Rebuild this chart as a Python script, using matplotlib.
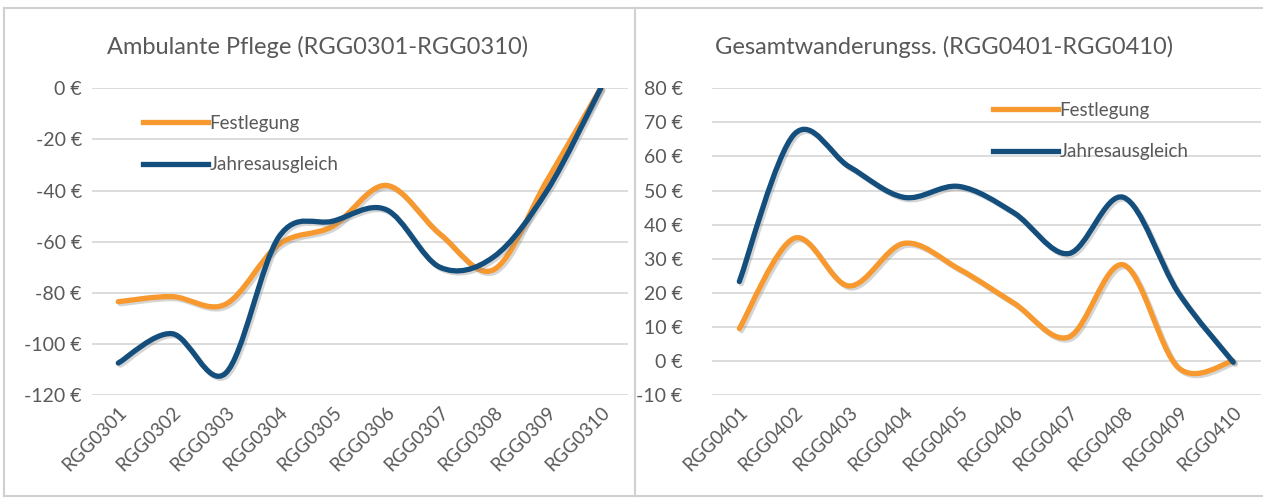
import matplotlib
matplotlib.use("Agg")
import matplotlib.pyplot as plt
import matplotlib.patheffects as pe
from matplotlib.path import Path
from matplotlib.patches import PathPatch
from matplotlib.lines import Line2D
import numpy as np

plt.rcParams['font.family'] = ['Lato', 'DejaVu Sans']

# ---- data ----
left_title = "Ambulante Pflege (RGG0301-RGG0310)"
left_categories = ["RGG0301", "RGG0302", "RGG0303", "RGG0304", "RGG0305",
                   "RGG0306", "RGG0307", "RGG0308", "RGG0309", "RGG0310"]
left_festlegung = [-83.5, -81.5, -84.5, -61, -54, -38, -57, -71, -36, 0]
left_jahresausgleich = [-107.5, -96, -111.5, -58, -52, -47.5, -70, -66, -40, 0]
left_yticks = [0, -20, -40, -60, -80, -100, -120]

right_title = "Gesamtwanderungss. (RGG0401-RGG0410)"
right_categories = ["RGG0401", "RGG0402", "RGG0403", "RGG0404", "RGG0405",
                    "RGG0406", "RGG0407", "RGG0408", "RGG0409", "RGG0410"]
right_festlegung = [9.5, 36, 22, 34.5, 27, 17, 7, 28.2, -2, 0]
right_jahresausgleich = [23.3, 66.5, 57, 48, 51.2, 43.5, 31.5, 48, 20, -0.4]
right_yticks = [80, 70, 60, 50, 40, 30, 20, 10, 0, -10]

series_names = ["Festlegung", "Jahresausgleich"]
colors = ["#F7992F", "#134E7C"]

W, H = 1263, 498
fig = plt.figure(figsize=(W / 100, H / 100), dpi=100)
fig.patch.set_facecolor("white")

text_col = "#595959"
grid_col = "#D9D9D9"


def smooth_path(x, y):
    # Excel-style smoothed line (Catmull-Rom as cubic Bezier)
    pts = np.column_stack([x, y]).astype(float)
    n = len(pts)
    verts = [pts[0]]
    codes = [Path.MOVETO]
    for i in range(n - 1):
        p0 = pts[i - 1] if i > 0 else pts[i]
        p1 = pts[i]
        p2 = pts[i + 1]
        p3 = pts[i + 2] if i + 2 < n else pts[i + 1]
        c1 = p1 + (p2 - p0) / 6.0
        c2 = p2 - (p3 - p1) / 6.0
        verts += [c1, c2, p2]
        codes += [Path.CURVE4] * 3
    return Path(verts, codes)


def px_rect(x0, x1, ytop, ybot):
    return [x0 / W, 1 - ybot / H, (x1 - x0) / W, (ybot - ytop) / H]


def make_panel(rect, cats, s1, s2, yticks, ylim, title, title_xy, leg_xy, ypad):
    ax = fig.add_axes(rect)
    ax.set_facecolor("none")
    x = np.arange(len(cats))
    ax.set_xlim(-0.5, len(cats) - 0.5)
    ax.set_ylim(*ylim)
    ax.set_yticks(yticks)
    ax.set_yticklabels([f"{v} €" for v in yticks], color=text_col, fontsize=14)
    ax.set_xticks(x)
    ax.set_xticklabels(cats, rotation=45, ha="right", rotation_mode="anchor",
                       color=text_col, fontsize=13.5)
    ax.tick_params(length=0)
    ax.tick_params(axis="y", pad=ypad)
    ax.tick_params(axis="x", pad=6)
    for s in ax.spines.values():
        s.set_visible(False)
    ax.grid(axis="y", color=grid_col, linewidth=1.3)
    ax.set_axisbelow(True)
    for vals, c in zip([s1, s2], colors):
        patch = PathPatch(smooth_path(x, vals), facecolor="none", edgecolor=c,
                          linewidth=3.8, capstyle="round", joinstyle="round",
                          path_effects=[pe.SimpleLineShadow(offset=(1.5, -1.5), shadow_color="#888888", alpha=0.35),
                                        pe.Normal()])
        ax.add_patch(patch)
    fig.text(title_xy[0] / W, 1 - title_xy[1] / H, title, color=text_col,
             fontsize=17, va="center", ha="left")
    handles = [Line2D([0], [0], color=c, lw=3.8) for c in colors]
    leg = ax.legend(handles, series_names, loc="upper left",
                    bbox_to_anchor=(leg_xy[0] / W, 1 - leg_xy[1] / H),
                    bbox_transform=fig.transFigure, frameon=False,
                    handlelength=3.45, handletextpad=0.1, labelspacing=1.3,
                    fontsize=13.5, borderpad=0, borderaxespad=0)
    for t in leg.get_texts():
        t.set_color(text_col)
    return ax


make_panel(px_rect(91.5, 627.5, 88.3, 395.0), left_categories,
           left_festlegung, left_jahresausgleich, left_yticks, (-120, 0),
           left_title, (107, 47), (143, 115), 7)
make_panel(px_rect(711.9, 1260.7, 88.3, 395.0), right_categories,
           right_festlegung, right_jahresausgleich, right_yticks, (-10, 80),
           right_title, (715, 47), (993, 102), 21)

# panel borders
border = "#D0D0D0"
for (xa, ya, xb, yb) in [(4, 8, 1263, 8), (4, 8, 4, 496), (635, 8, 635, 496),
                         (4, 496, 1263, 496)]:
    fig.add_artist(Line2D([xa / W, xb / W], [1 - ya / H, 1 - yb / H],
                          color=border, lw=1.5, transform=fig.transFigure))

fig.savefig("out.png", dpi=100, facecolor="white")
